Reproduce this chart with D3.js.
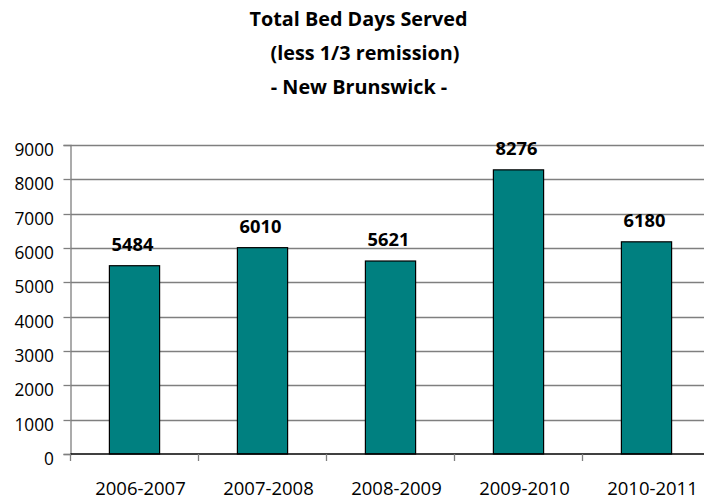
<!DOCTYPE html>
<html>
<head>
<meta charset="utf-8">
<script src="https://cdn.jsdelivr.net/npm/d3@7"></script>
<style>
  html, body { margin: 0; padding: 0; background: #fff; }
  svg { display: block; }
</style>
</head>
<body>
<svg id="chart" width="704" height="500"></svg>
<script>
const titleLines = ["Total Bed Days Served", "(less 1/3 remission)", "- New Brunswick -"];
const categories = ["2006-2007", "2007-2008", "2008-2009", "2009-2010", "2010-2011"];
const values = [5484, 6010, 5621, 8276, 6180];
const yTicks = [0, 1000, 2000, 3000, 4000, 5000, 6000, 7000, 8000, 9000];

const svg = d3.select("#chart");
const FONT = "'Open Sans', 'DejaVu Sans', sans-serif";

const x = d3.scaleBand().domain(categories).range([70.5, 710.5]).padding(0);
const y = d3.scaleLinear().domain([0, 9000]).range([454, 145]);

// Title
const titleX = [358.5, 365, 359];
const titleY = [25.7, 60, 94.3];
svg.append("g").selectAll("text").data(titleLines).join("text")
  .attr("x", (d, i) => titleX[i])
  .attr("y", (d, i) => titleY[i])
  .attr("text-anchor", "middle")
  .attr("font-family", FONT)
  .attr("font-weight", "bold")
  .attr("font-size", "19.8px")
  .attr("fill", "#000")
  .text(d => d);

// Gridlines
svg.append("g").selectAll("line").data(yTicks.filter(d => d > 0)).join("line")
  .attr("x1", 70.5).attr("x2", 704)
  .attr("y1", d => Math.round(y(d)) + 0.5)
  .attr("y2", d => Math.round(y(d)) + 0.5)
  .attr("stroke", "#7f7f7f").attr("stroke-width", 1.3);

// Y axis
const yAxis = svg.append("g")
  .attr("transform", "translate(70.5,0)")
  .call(d3.axisLeft(y).tickValues(yTicks).tickSize(7).tickPadding(0).tickFormat(d3.format("d")));
yAxis.select(".domain").attr("stroke", "#7f7f7f").attr("stroke-width", 1.3);
yAxis.selectAll(".tick line").attr("stroke", "#7f7f7f").attr("stroke-width", 1.3);
yAxis.selectAll(".tick text")
  .attr("x", -16.5)
  .attr("dy", "0.6em")
  .attr("font-family", FONT)
  .attr("font-size", "17.3px")
  .attr("fill", "#000");
yAxis.selectAll(".tick").attr("transform", d => `translate(0,${Math.round(y(d)) + 0.5})`);

// Bars
svg.append("g").selectAll("rect").data(values).join("rect")
  .attr("x", (d, i) => x(categories[i]) + x.bandwidth() * 0.3 + 0.5)
  .attr("width", x.bandwidth() * 0.4 - 1)
  .attr("y", d => y(d))
  .attr("height", d => y(0) - y(d))
  .attr("fill", "#008080")
  .attr("stroke", "#000")
  .attr("stroke-width", 1.2);

// X axis
const xBoundaries = categories.map(c => x(c)).concat([x.range()[1]]);
svg.append("line")
  .attr("x1", 70.5).attr("x2", 704)
  .attr("y1", y(0)).attr("y2", y(0))
  .attr("stroke", "#000").attr("stroke-width", 1.3);
svg.append("g").selectAll("line").data(xBoundaries).join("line")
  .attr("x1", d => d).attr("x2", d => d)
  .attr("y1", y(0)).attr("y2", y(0) + 7)
  .attr("stroke", "#7f7f7f").attr("stroke-width", 1.3);

svg.append("g").selectAll("text").data(categories).join("text")
  .attr("x", d => x(d) + x.bandwidth() / 2 + 6)
  .attr("y", 495)
  .attr("text-anchor", "middle")
  .attr("font-family", FONT)
  .attr("font-size", "18.5px")
  .attr("fill", "#000")
  .text(d => d);

// Data labels
svg.append("g").selectAll("text").data(values).join("text")
  .attr("x", (d, i) => x(categories[i]) + x.bandwidth() / 2 - 2)
  .attr("y", d => y(d) - 15)
  .attr("text-anchor", "middle")
  .attr("font-family", FONT)
  .attr("font-weight", "bold")
  .attr("font-size", "18.3px")
  .attr("fill", "#000")
  .text(d => d);
</script>
</body>
</html>
